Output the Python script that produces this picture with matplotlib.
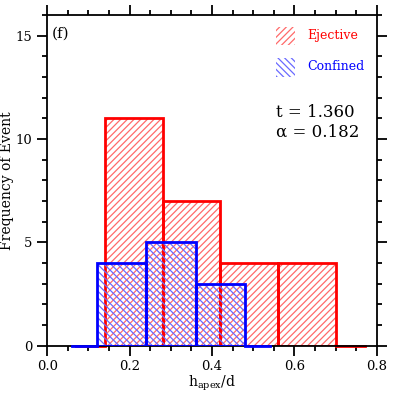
import matplotlib
matplotlib.use('Agg')
import matplotlib.pyplot as plt
import matplotlib.patches as patches
from matplotlib.ticker import MultipleLocator

# histogram data
ejective_edges = [0.14, 0.28, 0.42, 0.56, 0.70]
ejective_counts = [11, 7, 4, 4]
confined_edges = [0.12, 0.24, 0.36, 0.48]
confined_counts = [4, 5, 3]
t_value = 1.360
alpha_value = 0.182

plt.rcParams['font.family'] = ['DejaVu Serif']
plt.rcParams['mathtext.fontset'] = 'dejavuserif'
plt.rcParams['hatch.linewidth'] = 0.9

fig = plt.figure(figsize=(3.93, 3.93), dpi=100)
ax = fig.add_axes([0.120, 0.120, 0.839, 0.842])


def draw_hist(edges, counts, line_color, hatch_color, hatch, z):
    widths = [edges[i + 1] - edges[i] for i in range(len(counts))]
    lefts = edges[:-1]
    # hatch fill
    ax.bar(lefts, counts, width=widths, align='edge', facecolor='none',
           edgecolor=hatch_color, linewidth=0, hatch=hatch, zorder=z)
    # outlines
    ax.bar(lefts, counts, width=widths, align='edge', facecolor='none',
           edgecolor=line_color, linewidth=2, zorder=z + 0.5)
    # half-bin flat extensions at zero
    half = widths[0] / 2
    ax.plot([edges[0] - half, edges[0]], [0, 0], color=line_color, lw=2,
            zorder=z + 0.5, clip_on=False)
    ax.plot([edges[-1], edges[-1] + half], [0, 0], color=line_color, lw=2,
            zorder=z + 0.5, clip_on=False)


red_hatch = '/' * 5
blue_hatch = '\\' * 5
draw_hist(ejective_edges, ejective_counts, 'red', '#ff6a6a', red_hatch, 2)
draw_hist(confined_edges, confined_counts, 'blue', '#6a6aff', blue_hatch, 3)

ax.set_xlim(0, 0.8)
ax.set_ylim(0, 16)
ax.xaxis.set_major_locator(MultipleLocator(0.2))
ax.xaxis.set_minor_locator(MultipleLocator(0.05))
ax.yaxis.set_major_locator(MultipleLocator(5))
ax.yaxis.set_minor_locator(MultipleLocator(1))
ax.xaxis.set_major_formatter(matplotlib.ticker.FormatStrFormatter('%.1f'))
ax.tick_params(which='both', direction='out', top=True, right=True,
               labeltop=False, labelright=False, width=1.3, labelsize=9.5)
ax.tick_params(which='major', length=7)
ax.tick_params(which='minor', length=3.5)
for s in ax.spines.values():
    s.set_linewidth(1.3)

ax.set_xlabel(r'h$_{\rm apex}$/d', fontsize=10, labelpad=0)
ax.set_ylabel('Frequency of Event', fontsize=10, labelpad=1)

ax.text(0.012, 15.1, '(f)', fontsize=11, ha='left', va='center')

# legend drawn by hand
ax.add_patch(patches.Rectangle((0.555, 14.56), 0.046, 0.87, facecolor='none',
                               edgecolor='#ff6a6a', linewidth=0, hatch=red_hatch))
ax.text(0.632, 15.0, 'Ejective', color='red', fontsize=9, va='center')
ax.add_patch(patches.Rectangle((0.555, 13.0), 0.046, 0.9, facecolor='none',
                               edgecolor='#6a6aff', linewidth=0, hatch=blue_hatch))
ax.text(0.632, 13.5, 'Confined', color='blue', fontsize=9, va='center')

ax.text(0.555, 11.3, 't = %.3f' % t_value, fontsize=12, va='center')
ax.text(0.555, 10.35, 'α = %.3f' % alpha_value, fontsize=12, va='center')

fig.savefig('out.png', dpi=100)
